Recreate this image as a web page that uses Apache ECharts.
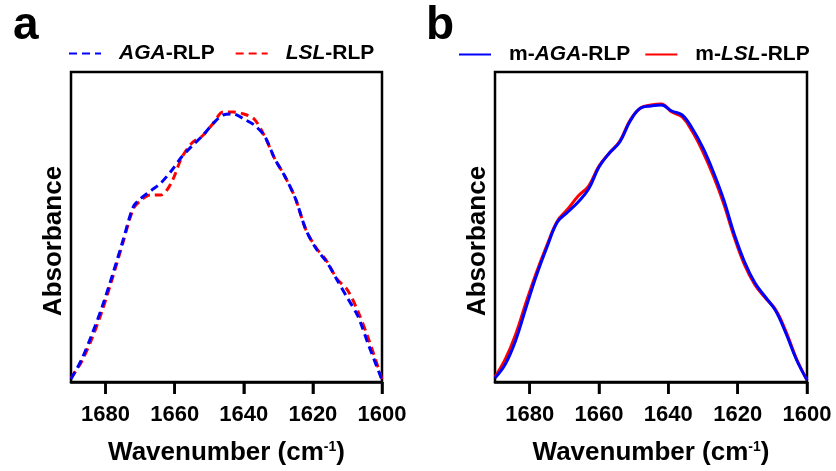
<!DOCTYPE html>
<html><head><meta charset="utf-8">
<script src="https://cdn.jsdelivr.net/npm/echarts@6/dist/echarts.min.js"></script>
<style>html,body{margin:0;padding:0;background:#fff}#c{width:836px;height:471px}</style>
</head><body><div id="c"></div>
<script>
// Panel a (dashed)
const aWavenumber = [1690,1687,1684,1681,1678,1675,1672,1670,1667,1664,1661,1658,1655,1652,1649,1646,1643,1640,1637,1634,1631,1628,1625,1622,1619,1616,1613,1610,1607,1604,1600];
const aAGA = [3,22,47,75,107,141,175,183,191,199,211,225,236,246,258,267,268,263,257,246,223,205,183,152,133,120,102,84,66,38,2];
const aLSL = [4,20,43,71,104,139,173,181,187,187,199,224,239,246,258,270,270,268,263,246,223,205,183,152,134,121,103,92,71,44,3];
// Panel b (solid)
const bWavenumber = [1690,1687,1684,1681,1678,1675,1672,1669,1666,1663,1660,1657,1654,1651,1648,1645,1642,1639,1636,1633,1630,1627,1624,1621,1618,1615,1612,1609,1606,1603,1600];
const bAGA = [4,18,42,75,107,135,160,170,180,193,215,229,240,261,274,276,277,271,267,253,234,210,182,148,120,99,85,71,48,22,2];
const bLSL = [5,23,48,80,110,137,161,173,186,196,216,229,241,262,274,277,278,270,265,250,230,206,178,145,117,97,84,72,50,23,2];
const tickValues = [1680,1660,1640,1620,1600];
const xMin = 1600, xMax = 1690;

const FONT = "'Liberation Sans', Arial, sans-serif";
const BLUE = '#0000ff', RED = '#ff0000';
const TICK_LEN = 12;
const panels = [{left:71, width:311}, {left:495, width:312}];
const TOP = 72, H = 310;

function pairs(xs, ys){ return xs.map((x,i)=>[-x, ys[i]]); }
const negTicks = tickValues.map(v => -v);

function xAxisFor(gi){
  return {
    type:'value', gridIndex:gi, position:'bottom', min:-xMax, max:-xMin,
    axisLine:{show:true, onZero:false, lineStyle:{color:'#000', width:2.5}},
    axisTick:{show:true, inside:false, length:TICK_LEN, lineStyle:{color:'#000', width:2.5}, customValues:negTicks},
    axisLabel:{show:true, margin:22, color:'#000', fontFamily:FONT, fontWeight:'bold', fontSize:22,
      customValues:negTicks, formatter:v => String(-v)},
    splitLine:{show:false},
    name:'{t|Wavenumber (cm}{s|-1}{t|)}', nameLocation:'middle', nameGap:58,
    nameTextStyle:{rich:{
      t:{fontFamily:FONT, fontWeight:'bold', fontSize:26, color:'#000'},
      s:{fontFamily:FONT, fontWeight:'bold', fontSize:14, color:'#000', padding:[0,0,11,0]}
    }}
  };
}
function yAxisFor(gi, gap){
  return {
    type:'value', gridIndex:gi, min:0, max:310,
    axisLine:{show:false}, axisTick:{show:false}, axisLabel:{show:false}, splitLine:{show:false},
    name:'Absorbance', nameLocation:'middle', nameGap:gap,
    nameTextStyle:{fontFamily:FONT, fontWeight:'bold', fontSize:26, color:'#000', padding:[0,28,0,0]}
  };
}
const legendRich = {
  sp:{width:13},
  i:{fontFamily:FONT, fontWeight:'bold', fontStyle:'italic', fontSize:21, color:'#000'},
  n:{fontFamily:FONT, fontWeight:'bold', fontSize:21, color:'#000'}
};
function legendFmt(name){
  const m = name.match(/^(m-)?([A-Z]+)(-RLP)$/);
  if(!m) return name;
  return '{sp|}' + (m[1] ? '{n|' + m[1] + '}' : '') + '{i|' + m[2] + '}{n|' + m[3] + '}';
}

// tick marks: position derived from the axis range and grid layout
const tickMarks = [];
panels.forEach((p, gi) => {
  tickValues.forEach((v, k) => {
    const x = p.left + p.width * (xMax - v) / (xMax - xMin);
    tickMarks.push({id:'tick' + gi + '_' + k, type:'rect', z:100, zlevel:0,
      shape:{x:x - 1.25, y:TOP + H, width:2.5, height:TICK_LEN},
      style:{fill:'#000'}});
  });
});

const chart = echarts.init(document.getElementById('c'), null, {renderer:'canvas'});
chart.setOption({
  animation:false,
  backgroundColor:'#fff',
  graphic:{elements:[
    {id:'la', type:'text', left:13, top:3, style:{text:'a', font:"bold 46px 'Liberation Sans', Arial", fill:'#000'}},
    {id:'lb', type:'text', left:426, top:3, style:{text:'b', font:"bold 46px 'Liberation Sans', Arial", fill:'#000'}}
  ].concat(tickMarks)},
  legend:[
    {left:68, top:43, padding:0, itemWidth:32, itemHeight:14, itemGap:20, data:['AGA-RLP','LSL-RLP'],
     itemStyle:{opacity:0}, formatter:legendFmt, textStyle:{rich:legendRich}},
    {left:458, top:44, padding:0, itemWidth:32, itemHeight:14, itemGap:14, data:['m-AGA-RLP','m-LSL-RLP'],
     itemStyle:{opacity:0}, formatter:legendFmt, textStyle:{rich:legendRich}}
  ],
  grid:panels.map(p => ({left:p.left, top:TOP, width:p.width, height:H, show:true, borderColor:'#000', borderWidth:2.5, backgroundColor:'transparent'})),
  xAxis:[xAxisFor(0), xAxisFor(1)],
  yAxis:[yAxisFor(0, 4), yAxisFor(1, 4)],
  series:[
    {name:'LSL-RLP', type:'line', xAxisIndex:0, yAxisIndex:0, data:pairs(aWavenumber, aLSL), smooth:0.3, symbol:'none', z:2,
     lineStyle:{color:RED, width:3, type:[8,5]}, itemStyle:{color:RED}},
    {name:'AGA-RLP', type:'line', xAxisIndex:0, yAxisIndex:0, data:pairs(aWavenumber, aAGA), smooth:0.3, symbol:'none', z:3,
     lineStyle:{color:BLUE, width:3, type:[8,5]}, itemStyle:{color:BLUE}},
    {name:'m-LSL-RLP', type:'line', xAxisIndex:1, yAxisIndex:1, data:pairs(bWavenumber, bLSL), smooth:0.4, symbol:'none', z:2,
     lineStyle:{color:RED, width:3}, itemStyle:{color:RED}},
    {name:'m-AGA-RLP', type:'line', xAxisIndex:1, yAxisIndex:1, data:pairs(bWavenumber, bAGA), smooth:0.4, symbol:'none', z:3,
     lineStyle:{color:BLUE, width:3}, itemStyle:{color:BLUE}}
  ]
});
</script></body></html>
